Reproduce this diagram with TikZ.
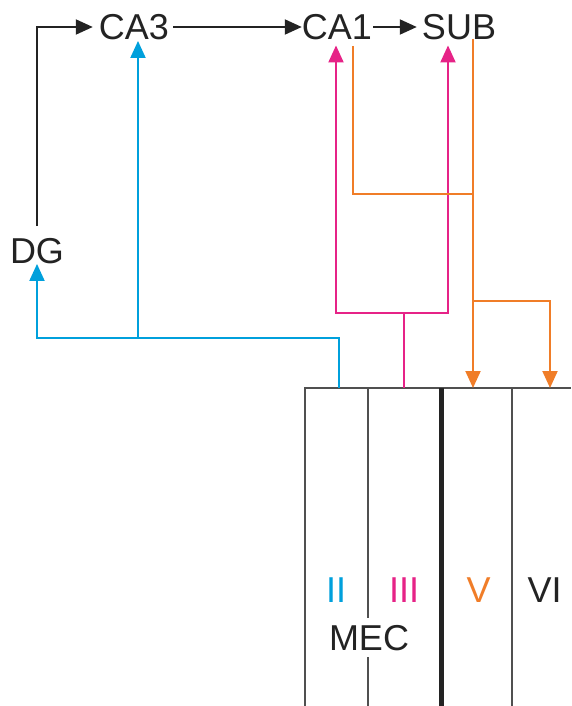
\documentclass[tikz,border=0pt]{standalone}
\usepackage{fontspec}
\setmainfont{Liberation Sans}
\usetikzlibrary{arrows.meta}
\definecolor{cblue}{RGB}{0,160,220}
\definecolor{cpink}{RGB}{230,35,135}
\definecolor{corange}{RGB}{240,125,40}
\definecolor{cdark}{RGB}{35,35,35}
\definecolor{cgray}{RGB}{80,80,80}
\begin{document}
\begin{tikzpicture}[x=1pt,y=-1pt,
  lbl/.style={inner sep=0pt, font=\fontsize{36}{40}\selectfont},
  con/.style={line width=2pt},
  tip/.style={-{Triangle[length=17pt,width=15pt]}},
  boxline/.style={line width=2pt, draw=cgray},
  thickline/.style={line width=5pt, draw=cdark}
]
\useasboundingbox (0,0) rectangle (571,706);
% text nodes
\node[lbl,text=cdark] (CA3) at (134,27) {CA3};
\node[lbl,text=cdark] (CA1) at (337,27) {CA1};
\node[lbl,text=cdark] (SUB) at (459,27) {SUB};
\node[lbl,text=cdark] (DG) at (37,251) {DG};
\node[lbl,text=cblue] (L2) at (336,590) {II};
\node[lbl,text=cpink] (L3) at (404,590) {III};
\node[lbl,text=corange] (L5) at (478.5,590) {V};
\node[lbl,text=cdark] (L6) at (544.5,590) {VI};
\node[lbl,text=cdark] (MEC) at (369,638.3) {MEC};
% junction coordinates
\coordinate (m2) at (339,388);
\coordinate (bj) at (138,338);
\coordinate (m3) at (404,388);
\coordinate (pj) at (404,313);
\coordinate (pL) at (336,313);
\coordinate (pR) at (448,313);
\coordinate (oA) at (353,194);
\coordinate (oB) at (473,194);
\coordinate (oC) at (473,301);
\coordinate (m5) at (473,388);
\coordinate (m6) at (550,388);
% MEC box
\draw[boxline] (305,706) -- (305,388) -- (571,388);
\draw[boxline] (368,388) -- (368,618);
\draw[boxline] (368,657) -- (368,706);
\draw[thickline] (441.5,388) -- (441.5,706);
\draw[boxline] (512,388) -- (512,706);
% black connectors
\draw[con,tip,draw=cdark] ([yshift=12pt]DG.north) |- ([xshift=-6pt]CA3.west);
\draw[con,tip,draw=cdark] ([xshift=4pt]CA3.east) -- (CA1.west);
\draw[con,tip,draw=cdark] ([xshift=1pt]CA1.east) -- ([xshift=-5pt]SUB.west);
% blue (layer II)
\draw[con,tip,draw=cblue] (m2) -- (m2 |- bj) -| (DG.south);
\draw[con,tip,draw=cblue,shorten >=1pt] (bj) -- (bj |- CA3.south);
% pink (layer III)
\draw[con,draw=cpink] (m3) -- (pj);
\draw[con,tip,draw=cpink,shorten >=5.5pt] (pj) -- (pL) -- (pL |- CA1.south);
\draw[con,tip,draw=cpink,shorten >=5.5pt] (pj) -- (pR) -- (pR |- SUB.south);
% orange (layer V)
\draw[con,draw=corange,shorten <=6pt] (oA |- CA1.south) -- (oA) -- (oB);
\draw[con,tip,draw=corange,shorten <=-1pt] (oB |- SUB.south) -- (m5);
\draw[con,tip,draw=corange] (oC) -| (m6);
\end{tikzpicture}
\end{document}
